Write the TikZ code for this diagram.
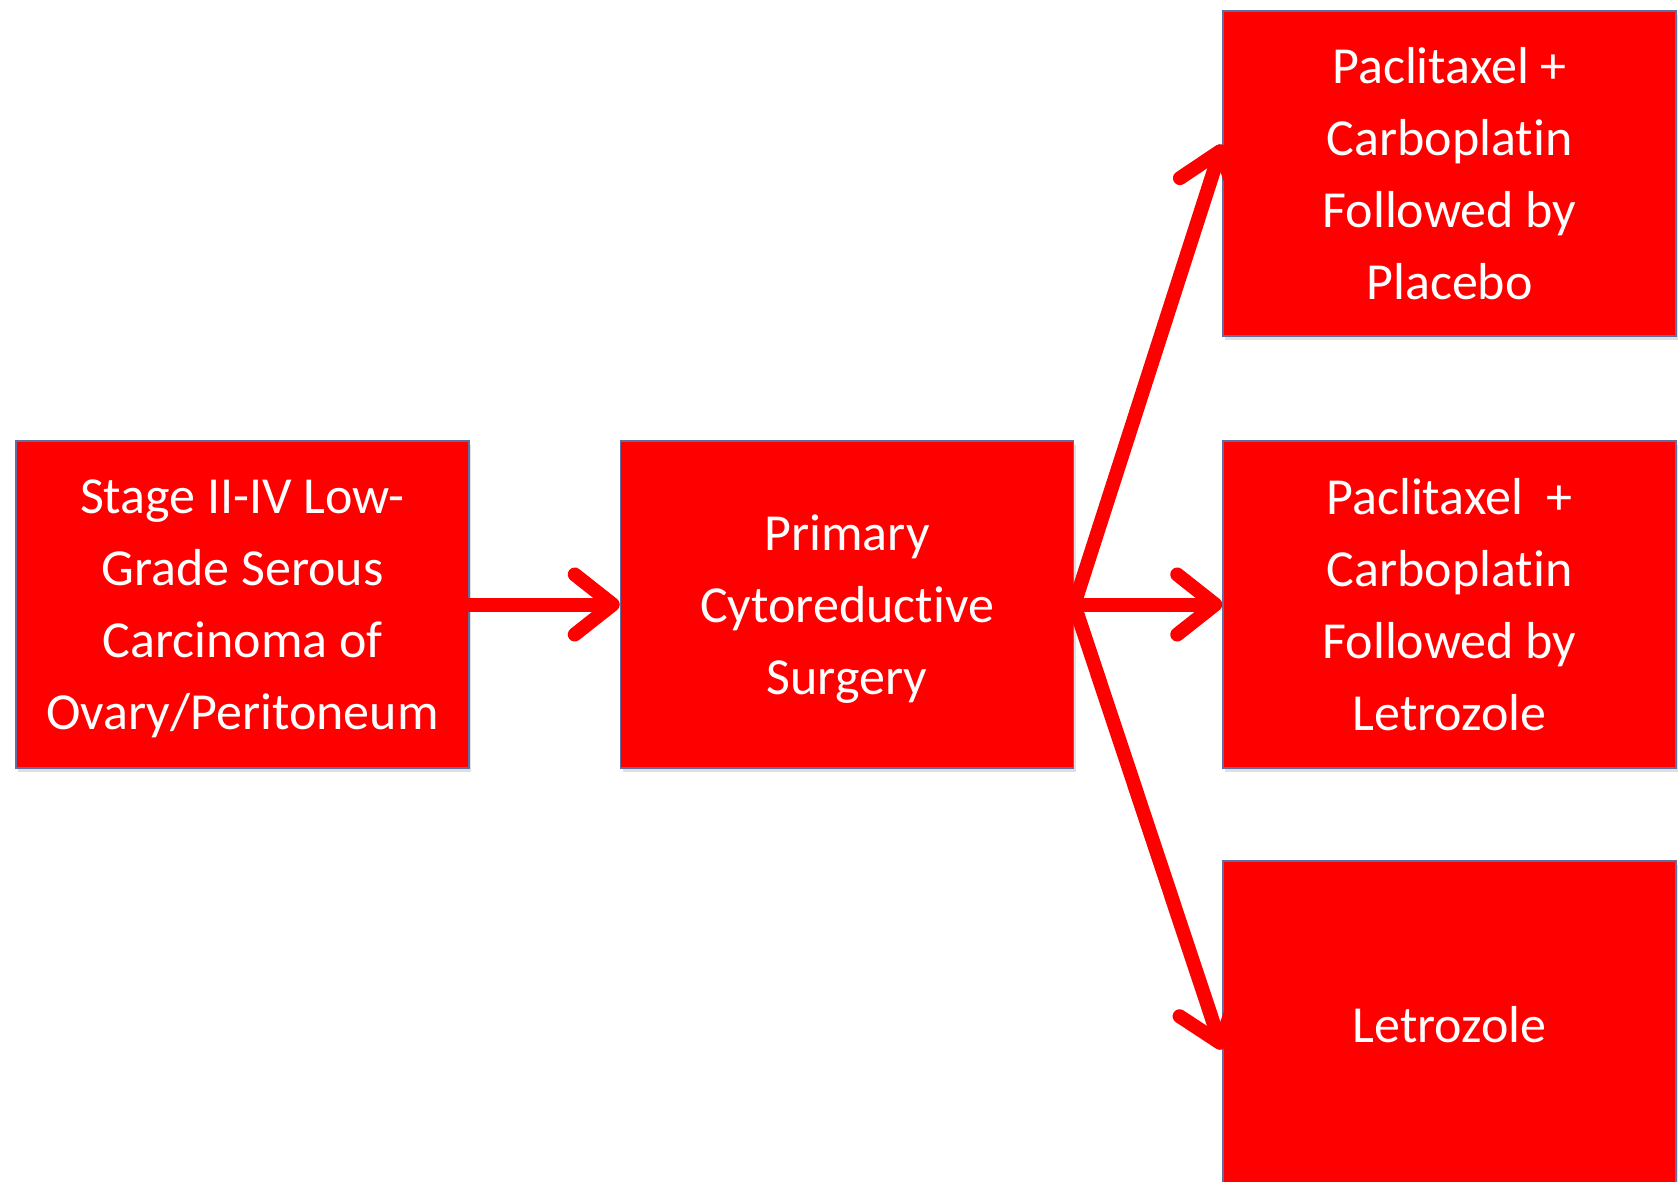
\documentclass[tikz,border=0pt]{standalone}
\usepackage{fontspec}
\setmainfont{Carlito}[Ligatures=NoCommon]
\usetikzlibrary{arrows.meta,shadows}
\definecolor{boxred}{RGB}{255,0,0}
\definecolor{boxedge}{RGB}{96,110,160}
\begin{document}
\begin{tikzpicture}[x=1pt,y=-1pt,
  flowbox/.style={rectangle, fill=boxred, draw=boxedge, line width=1.5pt,
    minimum width=453pt, minimum height=327pt, inner sep=0pt,
    text=white, align=center, text depth=0pt,
    font=\fontsize{52}{72}\selectfont,
    drop shadow={shadow xshift=2pt, shadow yshift=-4pt, opacity=0.25}},
  flowarrow/.style={draw=boxred, line width=14pt, line cap=round, line join=round,
    -{Straight Barb[length=38pt, width=60pt, line cap=round, line join=round]}}]
\clip (0,0) rectangle (1678,1182);
\useasboundingbox (0,0) rectangle (1678,1182);

% boxes
\node[flowbox] (stage) at (242.5,604.5) {Stage II-IV Low-\\Grade Serous\\Carcinoma of\\Ovary/Peritoneum};
\node[flowbox] (surgery) at (847,604.5) {Primary\\Cytoreductive\\Surgery};
\node[flowbox, minimum height=325pt] (armA) at (1449.5,173.5) {Paclitaxel +\\Carboplatin\\Followed by\\Placebo};
\node[flowbox] (armB) at (1449.5,604.5) {Paclitaxel\ \ +\\Carboplatin\\Followed by\\Letrozole};
\node[flowbox] (armC) at (1449.5,1024.5) {Letrozole};

% arrow end points on the left sides of the arm boxes
\coordinate (armAin) at ([yshift=29pt]armA.west);
\coordinate (armCin) at ([yshift=-25pt]armC.west);

% connectors
\draw[flowarrow] (stage.east) -- (surgery.west);
\draw[flowarrow] (surgery.east) -- (armAin);
\draw[flowarrow] (surgery.east) -- (armB.west);
\draw[flowarrow] (surgery.east) -- (armCin);
\end{tikzpicture}
\end{document}
